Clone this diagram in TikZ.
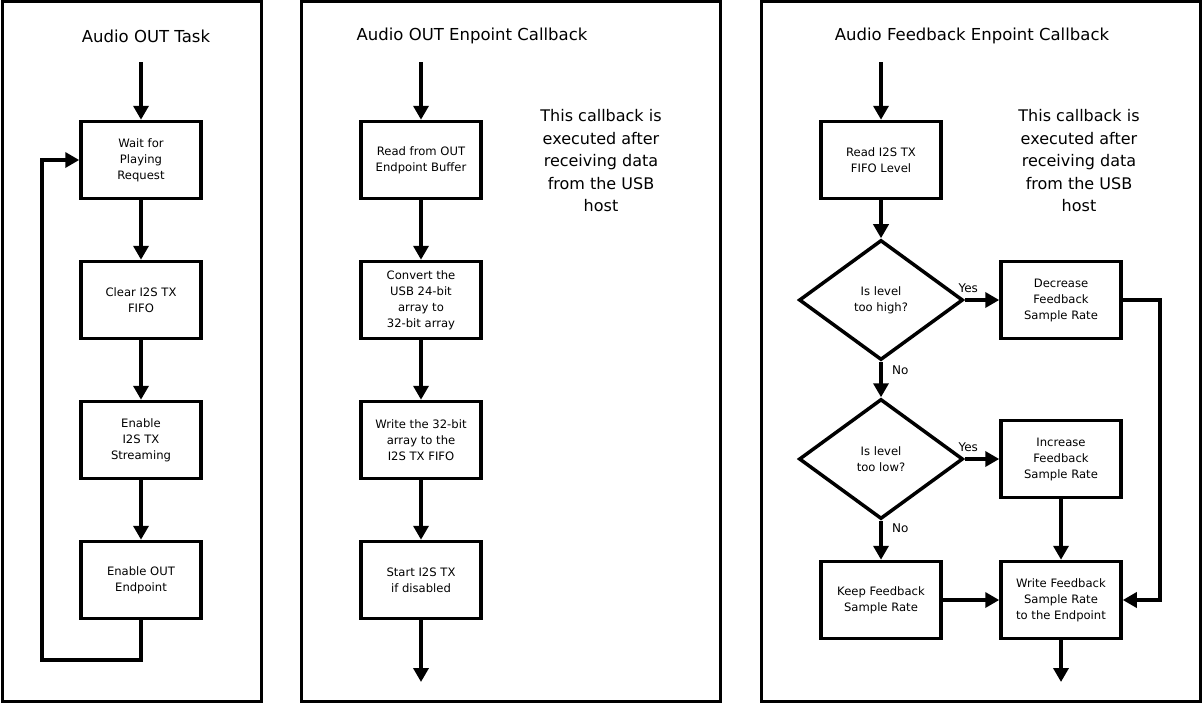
\documentclass[tikz,border=0pt]{standalone}
\usepackage{fontspec}
\setmainfont{DejaVu Sans}
\usetikzlibrary{arrows.meta,shapes.geometric}

\tikzset{
  panel/.style={line width=3pt},
  stepbox/.style={draw, line width=3.5pt, minimum width=120pt, minimum height=77pt,
    align=center, font=\fontsize{11.6}{16}\selectfont, inner sep=2pt},
  question/.style={draw, diamond, line width=3.5pt, minimum width=164pt, minimum height=120pt,
    aspect=1.37, align=center, font=\fontsize{11.6}{16}\selectfont, inner sep=0pt},
  heading/.style={font=\fontsize{16.5}{18}\selectfont},
  remark/.style={align=center, font=\fontsize{16}{22.5}\selectfont},
  answer/.style={font=\fontsize{12}{13}\selectfont},
  flow/.style={line width=3.5pt, -{Triangle[length=14pt,width=15pt]}}
}

\begin{document}
\begin{tikzpicture}[x=1pt, y=-1pt]
    \useasboundingbox (0,0) rectangle (1204,704);

    % panel frames
    \draw [panel] (2,1) rectangle (261,701);
    \draw [panel] (301.5,1) rectangle (720.5,701);
    \draw [panel] (761,1) rectangle (1200,701);

    % Audio OUT Task
    \node [heading] (title1) at (146,36) {Audio OUT Task};
    \coordinate (in1) at (141,62);
    \node [stepbox] (wait) at (141,160) {Wait for\\Playing\\Request};
    \node [stepbox] (clear) at (141,300) {Clear I2S TX\\FIFO};
    \node [stepbox] (stream) at (141,440) {Enable\\I2S TX\\Streaming};
    \node [stepbox] (endp) at (141,580) {Enable OUT\\Endpoint};
    \coordinate (loop) at (42,660);

    \draw [flow] (in1) -- (wait);
    \draw [flow] (wait) -- (clear);
    \draw [flow] (clear) -- (stream);
    \draw [flow] (stream) -- (endp);
    \draw [flow] (endp.south) |- (loop) |- (wait.west);

    % Audio OUT Enpoint Callback
    \node [heading] (title2) at (472,36) {Audio OUT Enpoint Callback};
    \coordinate (in2) at (421,62);
    \node [stepbox] (read) at (421,160) {Read from OUT\\Endpoint Buffer};
    \node [stepbox] (conv) at (421,300) {Convert the\\USB 24-bit\\array to\\32-bit array};
    \node [stepbox] (write) at (421,440) {Write the 32-bit\\array to the\\I2S TX FIFO};
    \node [stepbox] (start) at (421,580) {Start I2S TX\\if disabled};
    \coordinate (out2) at (421,682);
    \node [remark] (note2) at (601,161) {This callback is\\executed after\\receiving data\\from the USB\\host};

    \draw [flow] (in2) -- (read);
    \draw [flow] (read) -- (conv);
    \draw [flow] (conv) -- (write);
    \draw [flow] (write) -- (start);
    \draw [flow] (start) -- (out2);

    % Audio Feedback Enpoint Callback
    \node [heading] (title3) at (972,36) {Audio Feedback Enpoint Callback};
    \coordinate (in3) at (881,62);
    \node [stepbox] (level) at (881,160) {Read I2S TX\\FIFO Level};
    \node [question] (high) at (881,300) {Is level\\too high?};
    \node [question] (low) at (881,459) {Is level\\too low?};
    \node [stepbox] (dec) at (1061,300) {Decrease\\Feedback\\Sample Rate};
    \node [stepbox] (inc) at (1061,459) {Increase\\Feedback\\Sample Rate};
    \node [stepbox] (keep) at (881,600) {Keep Feedback\\Sample Rate};
    \node [stepbox] (send) at (1061,600) {Write Feedback\\Sample Rate\\to the Endpoint};
    \coordinate (turn) at (1160,600);
    \coordinate (out3) at (1061,682);
    \node [remark] (note3) at (1079,161) {This callback is\\executed after\\receiving data\\from the USB\\host};

    \draw [flow] (in3) -- (level);
    \draw [flow] (level) -- (high);
    \draw [flow] (high) -- node [answer, pos=0.1, above=2pt] {Yes} (dec);
    \draw [flow] (high) -- node [answer, pos=0.25, right=6pt] {No} (low);
    \draw [flow] (low) -- node [answer, pos=0.1, above=2pt] {Yes} (inc);
    \draw [flow] (low) -- node [answer, pos=0.2, right=6pt] {No} (keep);
    \draw [flow] (inc) -- (send);
    \draw [flow] (keep) -- (send);
    \draw [flow] (dec.east) -| (turn) -- (send.east);
    \draw [flow] (send) -- (out3);
\end{tikzpicture}
\end{document}
